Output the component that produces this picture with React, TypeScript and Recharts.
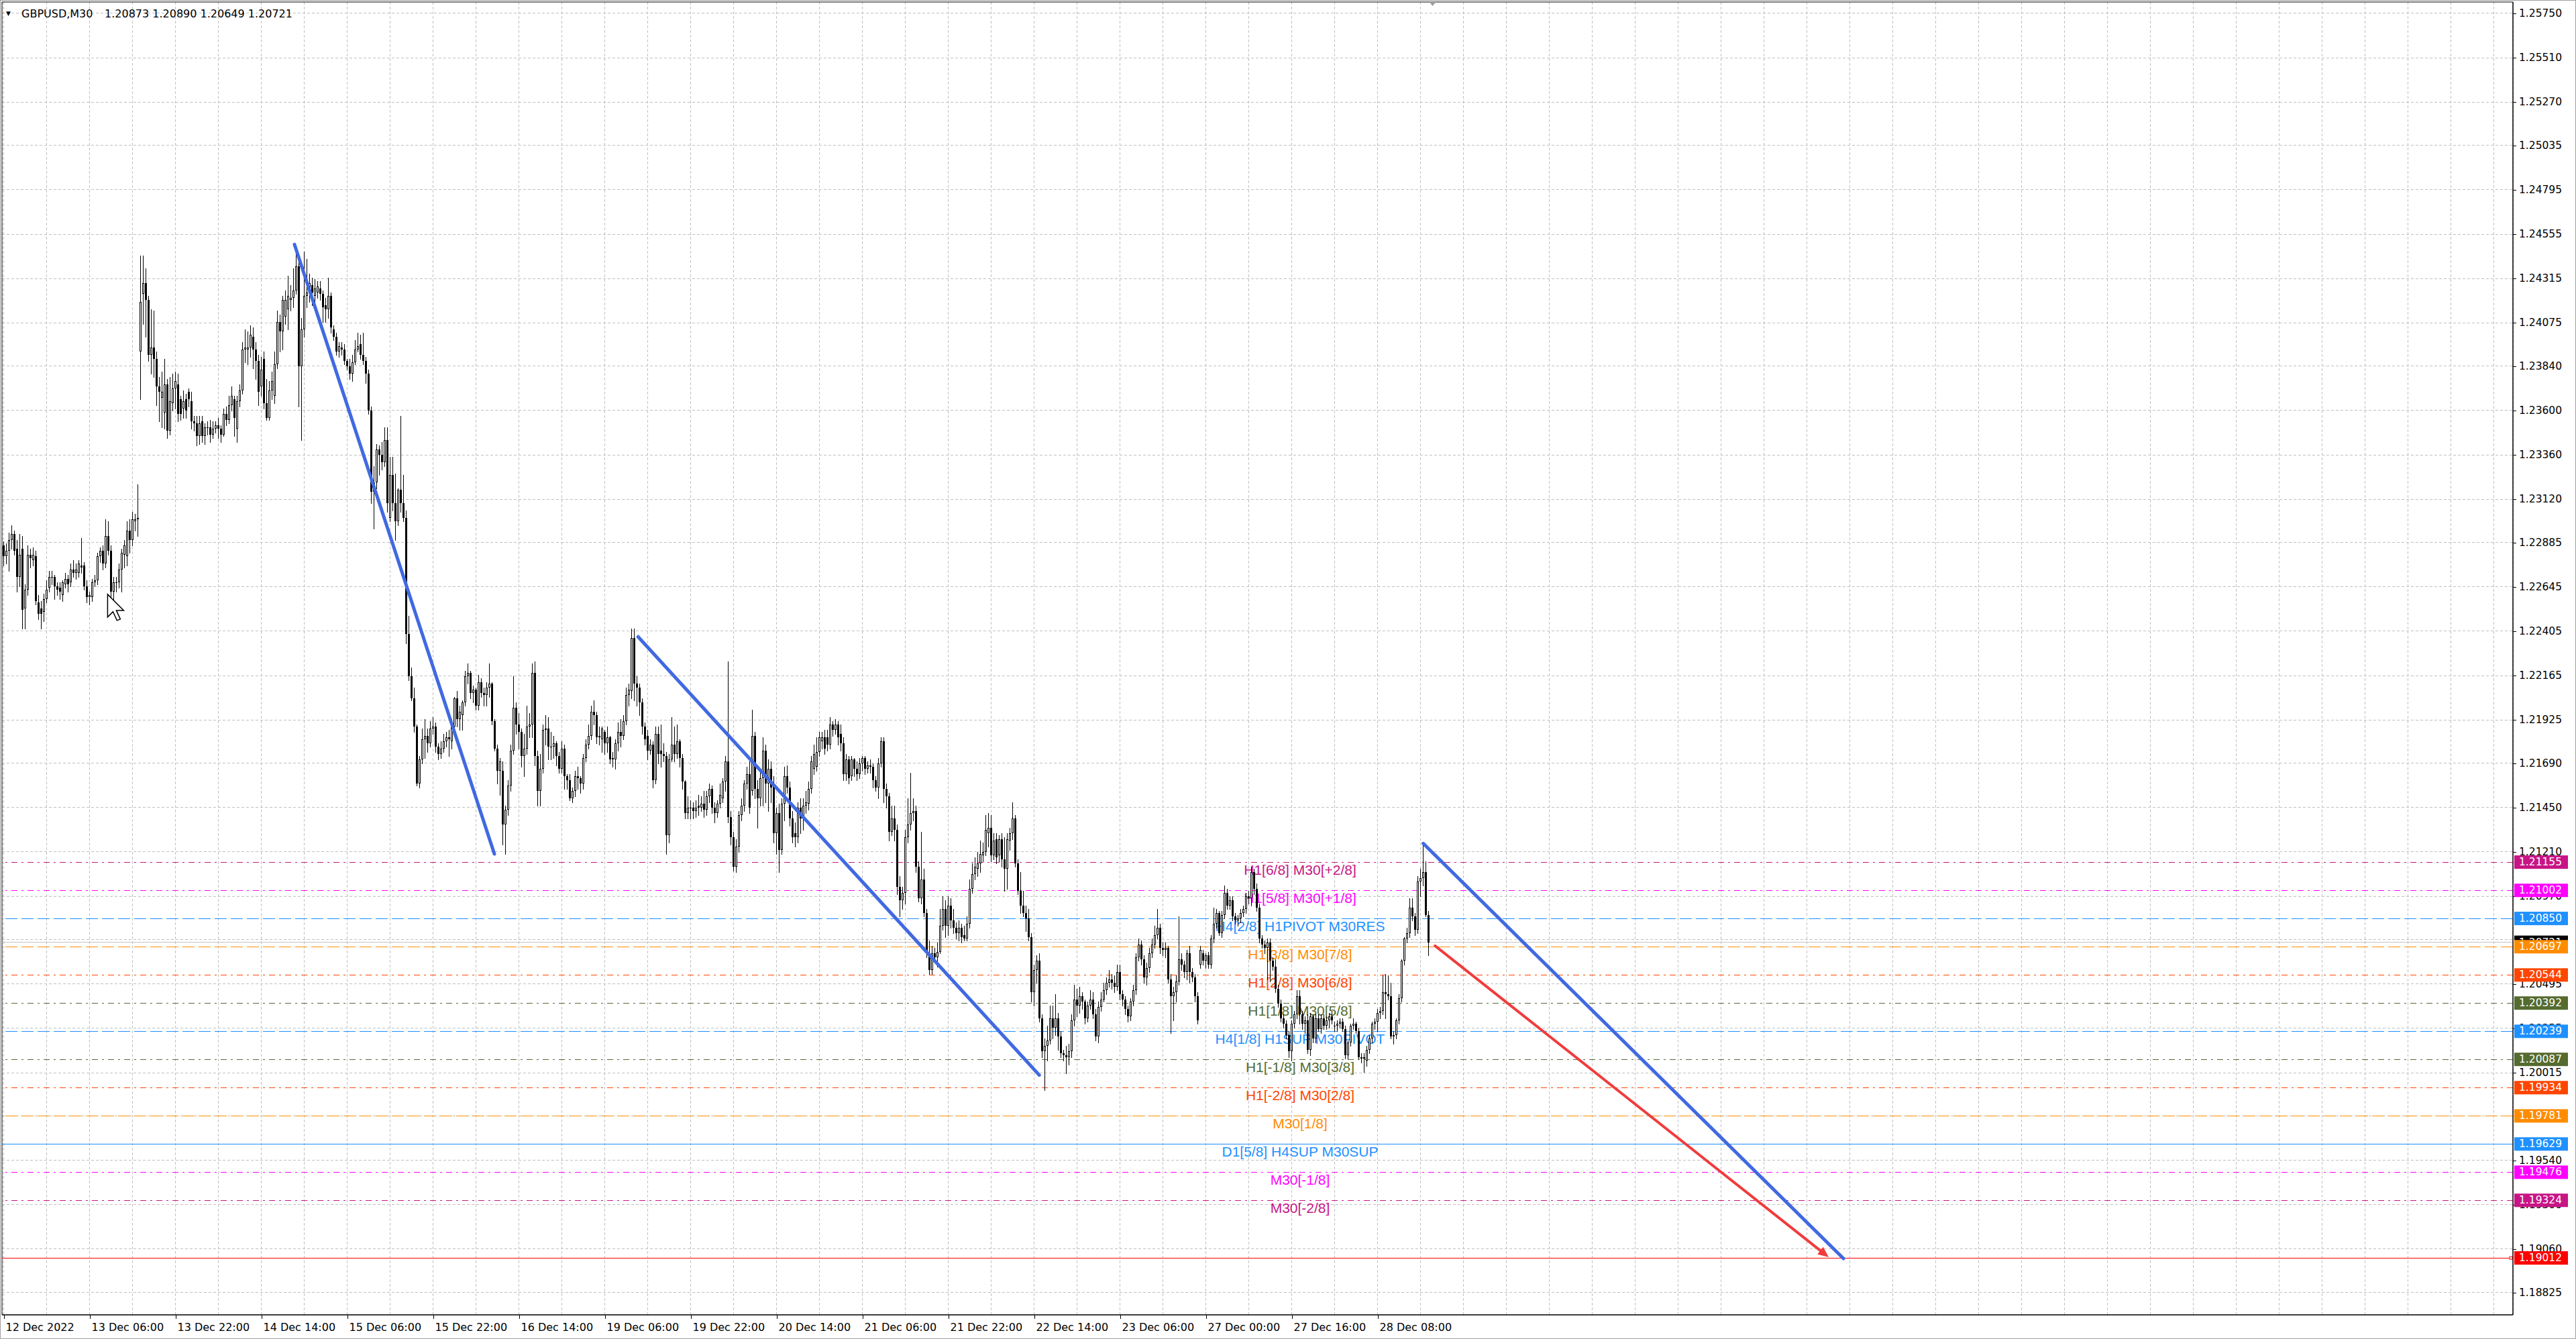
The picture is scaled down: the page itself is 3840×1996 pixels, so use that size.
import { Bar, CartesianGrid, ComposedChart, ReferenceArea, ReferenceDot, ReferenceLine, XAxis, YAxis } from 'recharts';

type Ohlc = [number, number, number, number];

// GBPUSD M30, one row per bar: [open, high, low, close] in pips above 1.2000
const BASE = 1.2;
const PIP = 0.0001;

const dec12: Ohlc[] = [
  [276,290,268,287],[287,289,276,281],[281,288,277,284],[284,294,273,290],[290,298,285,293],[293,295,282,284],[285,290,262,270],[270,293,265,282],
  [285,292,242,252],[253,266,242,263],[263,287,260,282],[282,285,275,280],[279,286,276,282],[281,284,255,257],[256,260,247,250],[253,257,242,250],
  [251,261,246,258],[258,268,256,263],[264,273,262,270],[270,273,266,270],[270,271,258,265],
];
const dec13: Ohlc[] = [
  [265,267,260,263],[264,267,258,262],[260,268,257,267],[266,272,264,269],[269,271,262,266],[267,277,265,274],[274,279,270,272],[272,277,269,274],
  [272,279,270,277],[276,291,272,275],[276,278,263,265],[265,268,256,259],[259,262,255,260],[259,269,257,267],[267,271,265,268],[268,283,266,281],
  [281,286,278,284],[284,287,274,277],[277,301,275,292],[292,300,282,284],[284,287,258,262],[262,270,256,267],[267,270,262,267],[267,277,264,274],
  [274,285,262,283],[282,290,275,287],[281,300,276,295],[295,301,283,290],[290,305,287,301],[300,304,295,301],[301,320,292,302],[392,444,366,419],
  [423,444,407,429],[429,437,400,420],[420,422,387,390],[390,415,380,394],[394,414,378,388],[388,392,363,373],[373,378,354,370],[367,381,351,370],
  [359,388,350,374],[374,377,345,349],[349,378,347,365],[364,380,360,372],[372,381,361,376],[374,380,354,358],[366,368,355,358],[361,371,356,365],
];
const dec14: Ohlc[] = [
  [366,369,356,360],[370,372,362,366],[365,370,350,354],[354,357,349,353],[353,357,341,346],[346,357,342,353],[354,357,343,346],[346,353,342,351],
  [351,354,347,351],[351,355,343,347],[347,354,345,350],[350,354,348,352],[352,356,345,350],[350,352,343,347],[347,361,346,358],[358,362,352,355],
  [355,368,353,363],[363,373,360,368],[366,368,346,356],[350,368,343,365],[365,374,362,371],[371,397,369,393],[393,404,386,394],[393,403,385,394],
  [394,406,389,401],[400,405,383,393],[393,397,377,387],[387,390,363,370],[373,389,368,382],[388,392,361,364],[364,377,355,356],[356,376,355,371],
  [371,381,366,376],[368,392,364,385],[385,414,383,408],[408,412,392,403],[403,422,393,420],[411,425,407,420],[415,433,404,422],[420,428,414,421],
  [421,437,416,425],[425,449,423,438],[438,441,362,384],[384,410,344,404],[404,446,400,422],[422,442,416,424],[424,434,419,429],[428,432,417,424],
];
const dec15: Ohlc[] = [
  [422,431,419,426],[424,430,421,427],[426,430,420,423],[423,425,408,416],[417,421,408,415],[415,432,410,422],[422,424,402,405],[404,406,398,400],
  [400,402,390,392],[392,397,389,395],[394,397,390,393],[393,396,385,387],[387,388,382,384],[384,388,377,380],[380,390,376,386],[386,398,385,393],
  [393,402,392,395],[396,401,388,390],[390,402,385,387],[387,389,375,380],[380,382,358,360],[360,362,310,316],[316,330,296,321],[321,342,318,339],
  [339,341,325,336],[336,343,328,332],[332,351,330,344],[344,351,305,310],[302,335,300,325],[325,335,306,310],[310,326,290,300],[300,318,298,317],
  [317,357,305,310],[310,325,300,302],[302,306,234,239],[239,249,214,216],[216,221,203,204],[204,210,186,189],[189,190,157,158],[158,173,156,171],
  [171,188,169,182],[182,193,172,184],[184,188,175,180],[180,192,178,188],[188,194,185,189],[189,191,175,178],[178,180,171,174],[174,181,172,177],
];
const dec16: Ohlc[] = [
  [177,185,175,181],[181,186,178,183],[183,187,173,182],[181,193,177,189],[189,205,187,204],[204,208,189,193],[193,200,187,197],[195,203,187,202],
  [202,219,200,216],[216,223,212,218],[218,219,204,207],[207,211,202,209],[209,210,198,200],[200,217,198,213],[213,215,205,207],[207,210,200,206],
  [206,213,200,210],[210,223,205,212],[212,213,190,192],[192,193,176,177],[177,179,158,165],[165,172,152,170],[165,170,125,136],[136,146,120,144],
  [144,160,141,157],[157,179,154,176],[176,216,174,199],[199,202,185,190],[190,196,177,186],[186,188,167,173],[173,185,162,177],[177,200,174,189],
  [189,196,183,190],[190,223,183,218],[218,224,168,173],[173,176,146,154],[154,174,146,166],[166,190,164,187],[187,195,179,188],[188,194,171,178],
  [178,186,171,178],[178,184,172,180],[180,181,168,173],[173,175,164,166],[166,181,164,177],[177,179,155,162],[162,163,155,160],[160,163,149,150],
];
const dec19: Ohlc[] = [
  [150,156,148,154],[154,165,151,162],[162,167,155,161],[161,162,153,158],[158,174,155,172],[172,182,170,179],[179,190,177,184],[184,200,182,197],
  [197,203,190,195],[195,197,180,183],[183,189,179,184],[182,189,175,188],[186,187,174,180],[180,189,175,183],[183,184,169,171],[171,175,167,172],
  [171,182,166,180],[180,191,176,186],[186,193,178,184],[184,195,182,192],[192,210,190,206],[206,212,200,209],[208,242,204,237],[237,242,203,212],
  [212,216,200,210],[210,212,195,202],[202,204,185,189],[189,191,179,182],[184,187,171,176],[176,182,174,179],[179,181,156,160],[160,189,158,185],
  [185,189,169,174],[176,190,167,174],[174,180,170,173],[173,175,120,130],[130,174,126,171],[171,194,170,179],[179,189,170,174],[174,190,172,181],
  [181,182,167,172],[172,174,155,159],[159,160,139,142],[142,151,139,145],[145,149,139,145],[145,148,139,143],[143,149,140,145],[146,152,141,145],
];
const dec20: Ohlc[] = [
  [145,151,143,147],[147,154,140,144],[144,154,141,151],[151,158,148,155],[155,157,142,145],[145,148,137,142],[142,149,140,147],[147,158,145,152],
  [150,161,148,159],[159,173,154,170],[170,224,137,140],[140,143,125,129],[129,132,111,113],[113,128,110,124],[124,143,121,141],[141,150,138,146],
  [146,160,143,158],[158,167,155,163],[163,170,142,145],[154,198,152,184],[184,186,150,155],[155,160,134,150],[150,165,146,161],[161,183,146,176],
  [176,179,148,158],[158,171,143,166],[166,170,148,156],[158,162,126,131],[131,145,120,142],[142,147,110,122],[122,150,120,147],[147,167,138,162],
  [162,168,153,156],[156,159,135,139],[139,143,126,129],[131,137,124,129],[129,148,126,145],[145,150,131,139],[139,150,133,146],[146,154,142,148],
  [147,159,144,155],[155,173,153,170],[166,179,163,174],[167,183,165,175],[175,186,173,183],[181,186,177,183],[183,187,174,177],[183,187,176,179],
];
const dec21: Ohlc[] = [
  [179,194,177,190],[190,192,184,187],[187,193,185,190],[190,192,179,183],[185,190,176,180],[180,183,160,163],[163,174,160,171],[171,173,158,161],
  [162,173,160,171],[171,172,162,166],[166,170,160,163],[163,172,161,169],[169,173,165,172],[172,173,163,166],[166,170,164,168],[168,171,164,167],
  [167,169,156,160],[160,162,154,156],[156,172,150,169],[169,183,167,181],[181,183,148,155],[155,158,145,151],[151,153,127,132],[132,146,130,139],
  [139,146,127,133],[133,136,98,102],[102,108,86,95],[95,102,90,99],[99,133,93,129],[129,150,126,136],[136,164,133,142],[142,150,138,143],
  [143,146,110,113],[113,116,94,96],[96,132,93,106],[106,112,86,88],[88,90,64,66],[66,73,55,57],[57,70,55,66],[66,69,61,64],
  [64,72,59,67],[67,90,66,81],[81,97,79,90],[90,95,75,81],[81,97,76,92],[92,96,80,84],[84,90,77,80],[80,83,74,77],
];
const dec22: Ohlc[] = [
  [77,84,73,80],[80,82,72,75],[76,81,73,74],[74,86,73,82],[82,106,80,101],[101,115,99,109],[109,118,106,113],[112,121,108,115],
  [115,127,110,120],[119,126,116,121],[121,141,119,133],[131,142,124,134],[134,141,116,119],[119,131,117,127],[128,131,115,118],[119,130,116,128],
  [128,131,113,117],[117,129,100,112],[112,131,101,128],[127,134,122,131],[131,148,128,139],[139,141,113,115],[115,117,98,100],[100,110,88,92],
  [92,100,86,88],[88,92,78,85],[85,90,73,75],[75,77,40,45],[45,60,38,57],[57,65,50,62],[62,66,29,31],[31,33,10,13],
  [13,20,-8,16],[16,27,8,19],[19,38,17,31],[31,38,20,26],[26,44,22,31],[31,34,14,21],[21,24,10,12],[12,14,8,11],
  [11,16,1,10],[10,17,6,13],[13,33,10,30],[30,49,27,41],[41,47,32,38],[38,48,34,43],[43,45,36,40],[40,41,28,31],
];
const dec23: Ohlc[] = [
  [31,40,29,38],[38,46,36,41],[41,45,31,33],[33,36,19,21],[21,40,18,37],[37,45,35,41],[41,50,40,46],[46,53,44,50],
  [50,57,48,52],[52,55,47,50],[50,54,45,48],[48,60,46,56],[56,60,41,44],[44,46,38,41],[41,43,33,36],[36,38,29,32],
  [32,42,30,40],[40,49,38,46],[46,66,44,64],[64,74,62,71],[71,73,60,63],[63,65,50,53],[53,61,49,58],[58,69,56,66],
  [66,74,64,71],[71,81,69,76],[76,90,74,80],[80,82,66,69],[69,72,65,68],[68,72,64,69],[69,70,50,52],[52,55,23,43],
  [43,48,30,45],[45,54,40,51],[51,86,49,63],[63,66,57,60],[60,62,53,56],[56,68,52,66],[66,70,50,56],[56,58,51,53],
  [53,55,40,43],[43,45,28,30],
];
const dec27: Ohlc[] = [
  [60,70,58,68],[66,68,60,62],[62,66,58,65],[65,67,58,60],[60,76,58,74],[74,91,72,82],[82,90,80,88],[88,89,76,77],
  [77,89,75,87],[87,103,85,99],[99,101,90,92],[92,97,90,95],[95,97,84,86],[86,88,82,84],[84,87,81,85],[85,90,83,88],
  [88,92,86,90],[90,99,88,97],[97,100,93,96],[96,113,92,110],[110,112,98,101],[101,104,89,91],[91,93,72,74],[74,76,69,71],
  [71,73,66,69],[69,74,52,72],[72,74,51,62],[62,64,57,59],[59,63,45,47],[47,49,37,39],[39,41,29,31],[31,33,26,28],
  [28,30,20,22],[22,24,10,13],[13,30,8,28],[28,35,26,33],[33,46,31,43],[43,46,28,33],[33,35,25,28],[28,32,23,30],
  [30,33,12,14],[14,34,11,32],[32,33,18,20],[20,33,18,31],[31,33,24,25],[25,33,23,31],[31,33,25,27],[27,32,25,30],
  [30,34,26,32],[32,35,28,30],
];
const dec28: Ohlc[] = [
  [27,29,24,27],[27,30,24,28],[28,31,26,29],[29,31,24,25],[25,27,9,11],[11,19,9,18],[18,28,16,27],[27,31,25,28],
  [28,29,23,24],[24,26,9,10],[10,12,7,9],[9,12,2,10],[8,16,5,14],[14,22,12,20],[20,29,18,28],[28,31,25,29],
  [29,36,24,34],[34,37,31,35],[35,54,33,45],[45,55,31,44],[44,54,41,43],[43,50,20,21],[21,24,17,22],[22,31,20,30],
  [30,44,28,42],[42,63,40,62],[62,75,60,74],[74,80,72,77],[77,96,75,91],[91,96,84,86],[86,88,76,79],[79,108,77,105],
  [105,112,97,107],[107,126,103,110],[110,116,86,87],[87,89,65,72],
];

const sessions = [dec12, dec13, dec14, dec15, dec16, dec19, dec20, dec21, dec22, dec23, dec27, dec28];

const timeLabels = [
  '12 Dec 2022', '13 Dec 06:00', '13 Dec 22:00', '14 Dec 14:00', '15 Dec 06:00', '15 Dec 22:00',
  '16 Dec 14:00', '19 Dec 06:00', '19 Dec 22:00', '20 Dec 14:00', '21 Dec 06:00', '21 Dec 22:00',
  '22 Dec 14:00', '23 Dec 06:00', '27 Dec 00:00', '27 Dec 16:00', '28 Dec 08:00',
];

const priceTicks = [
  1.2575, 1.2551, 1.2527, 1.25035, 1.24795, 1.24555, 1.24315, 1.24075, 1.2384, 1.236,
  1.2336, 1.2312, 1.22885, 1.22645, 1.22405, 1.22165, 1.21925, 1.2169, 1.2145, 1.2121,
  1.2097, 1.20735, 1.20495, 1.20255, 1.20015, 1.1978, 1.1954, 1.193, 1.1906, 1.18825,
];

const levelPrices = [
  1.21155, 1.21002, 1.2085, 1.20697, 1.20544, 1.20392, 1.20239,
  1.20087, 1.19934, 1.19781, 1.19629, 1.19476, 1.19324, 1.19012,
];
const levelNames = [
  'H1[6/8] M30[+2/8]', 'H1[5/8] M30[+1/8]', 'H4[2/8] H1PIVOT M30RES', 'H1[3/8] M30[7/8]',
  'H1[2/8] M30[6/8]', 'H1[1/8] M30[5/8]', 'H4[1/8] H1SUP M30PIVOT', 'H1[-1/8] M30[3/8]',
  'H1[-2/8] M30[2/8]', 'M30[1/8]', 'D1[5/8] H4SUP M30SUP', 'M30[-1/8]', 'M30[-2/8]', '',
];

const bidPrice = 1.20721;
const lastQuote = ['1.20873', '1.20890', '1.20649', '1.20721'];

// drawn objects, anchored at [bar index, price]
const trendLines: [number, number][][] = [
  [[109.35, 1.24499], [183.85, 1.21199]],
  [[237.4, 1.22375], [386.9, 1.20002]],
  [[530, 1.21256], [686.6, 1.19009]],
];
const signalArrow: [number, number][] = [[534.4, 1.20702], [681.1, 1.19016]];
const shiftMarkBar = 533.5;
const mousePointer: [number, number] = [39.7, 1.22605];

// ---- styling ----
const DASH = '18 6';
const DASH_DOT = '9 6 3 6';
const levelStyles: { color: string; dash?: string }[] = [
  { color: '#c71585', dash: DASH_DOT },
  { color: '#ff00ff', dash: DASH_DOT },
  { color: '#1e90ff', dash: DASH },
  { color: '#ff8c00', dash: DASH },
  { color: '#ff4500', dash: DASH_DOT },
  { color: '#556b2f', dash: DASH_DOT },
  { color: '#1e90ff', dash: DASH },
  { color: '#556b2f', dash: DASH_DOT },
  { color: '#ff4500', dash: DASH_DOT },
  { color: '#ff8c00', dash: DASH },
  { color: '#1e90ff' },
  { color: '#ff00ff', dash: DASH_DOT },
  { color: '#c71585', dash: DASH_DOT },
  { color: '#ff0000' },
];

const X_MIN = 0.35;
const X_MAX = 936.1;
const Y_MIN = 1.187039;
const Y_MAX = 1.258117;
const LABEL_FIRST = 1;
const LABEL_STEP = 32;
const GRID_STEP = 16;
const AXIS_FONT = '"DejaVu Sans", Verdana, sans-serif';

const candles = sessions.flat().map(([o, h, l, c], i) => ({
  i,
  o: BASE + o * PIP,
  h: BASE + h * PIP,
  l: BASE + l * PIP,
  c: BASE + c * PIP,
}));

const xTicks = Array.from({ length: 59 }, (_, k) => LABEL_FIRST + k * GRID_STEP);
const tagPrices = [bidPrice, ...levelPrices];
// grid labels that sit fully under a price tag are not drawn (as in the terminal)
const gridLabels = priceTicks.filter((p) => tagPrices.every((t) => Math.abs(t - p) > 0.00015));
// tags come last so they paint over the grid labels
const yTicks = [...gridLabels, ...tagPrices];

function Candle(props: any) {
  const { x, y, width, height, payload } = props;
  if (!payload || !Number.isFinite(y)) return null;
  const { o, h, l, c } = payload;
  const top = Math.min(y, y + height);
  const span = Math.abs(height);
  const k = h > l ? span / (h - l) : 0;
  const at = (v: number) => top + (h - v) * k;
  const cx = Math.floor(x + width / 2) + 0.5;
  const bodyTop = Math.round(Math.min(at(o), at(c)));
  const bodyBot = Math.round(Math.max(at(o), at(c)));
  let body;
  if (bodyBot - bodyTop < 2) {
    body = <line x1={cx - 1.5} x2={cx + 1.5} y1={bodyTop + 0.5} y2={bodyTop + 0.5} stroke="#000" />;
  } else if (c >= o) {
    body = <rect x={cx - 1} y={bodyTop + 0.5} width={2} height={bodyBot - bodyTop - 1} fill="#fff" stroke="#000" />;
  } else {
    body = <rect x={cx - 1.5} y={bodyTop} width={3} height={bodyBot - bodyTop} fill="#000" />;
  }
  return (
    <g shapeRendering="crispEdges">
      <line x1={cx} x2={cx} y1={Math.round(top)} y2={Math.round(top + span) + 1} stroke="#000" />
      {body}
    </g>
  );
}

function TimeTick({ x, y, payload }: any) {
  const t = payload.value;
  if ((t - LABEL_FIRST) % LABEL_STEP !== 0) return null;
  const text = timeLabels[(t - LABEL_FIRST) / LABEL_STEP];
  if (!text) return null;
  const px = Math.round(x) + 0.5;
  return (
    <g>
      <line x1={px} x2={px} y1={y} y2={y + 6} stroke="#000" shapeRendering="crispEdges" />
      <text x={px + 2} y={y + 18} dominantBaseline="central" fontFamily={AXIS_FONT} fontSize={16} fill="#000">
        {text}
      </text>
    </g>
  );
}

function PriceTick({ x, y, payload }: any) {
  const v = payload.value;
  const k = levelPrices.indexOf(v);
  if (k >= 0 || v === bidPrice) {
    const color = k >= 0 ? levelStyles[k].color : '#000';
    return (
      <g>
        <rect x={x + 2} y={y - 10} width={80} height={20} fill={color} />
        <text x={x + 9} y={y} dominantBaseline="central" fontFamily={AXIS_FONT} fontSize={15.5} fill="#fff">
          {v.toFixed(5)}
        </text>
      </g>
    );
  }
  const py = Math.round(y) + 0.5;
  return (
    <g>
      <line x1={x} x2={x + 5} y1={py} y2={py} stroke="#000" shapeRendering="crispEdges" />
      <text x={x + 9} y={y} dominantBaseline="central" fontFamily={AXIS_FONT} fontSize={15.5} fill="#000">
        {v.toFixed(5)}
      </text>
    </g>
  );
}

function LevelName({ viewBox, color, name, marker }: any) {
  if (!viewBox) return null;
  const { x, y, width } = viewBox;
  return (
    <g>
      {name ? (
        <text x={x + width / 2 + 63.5} y={y + 11} textAnchor="middle" dominantBaseline="central"
          fontFamily='"Liberation Sans", Arial, sans-serif' fontSize={21} fill={color}>
          {name}
        </text>
      ) : null}
      {marker ? <rect x={x + width - 5} y={y - 2} width={4} height={4} fill="#fff" stroke={color} /> : null}
    </g>
  );
}

function ArrowLine(props: any) {
  const { x1, y1, x2, y2, stroke } = props;
  const a = Math.atan2(y2 - y1, x2 - x1);
  const len = 16;
  const w = 7;
  const bx = x2 - len * Math.cos(a);
  const by = y2 - len * Math.sin(a);
  const pts = [
    `${x2},${y2}`,
    `${bx + w * Math.sin(a)},${by - w * Math.cos(a)}`,
    `${bx - w * Math.sin(a)},${by + w * Math.cos(a)}`,
  ].join(' ');
  return (
    <g>
      <line x1={x1} y1={y1} x2={bx} y2={by} stroke={stroke} strokeWidth={4} strokeLinecap="round" />
      <polygon points={pts} fill={stroke} />
    </g>
  );
}

function ShiftMark({ cx, cy }: any) {
  if (!Number.isFinite(cx)) return null;
  return <polygon points={`${cx - 5},${cy} ${cx + 5},${cy} ${cx},${cy + 6}`} fill="#a0a0a0" />;
}

// standard arrow pointer, drawn at 2x
function Pointer({ cx, cy }: any) {
  if (!Number.isFinite(cx)) return null;
  const pts = [[0, 0], [0, 17], [4, 13], [7, 19.5], [9.5, 18.5], [6.5, 12], [12, 12]]
    .map(([px, py]) => `${cx + px * 2},${cy + py * 2}`)
    .join(' ');
  return <polygon points={pts} fill="#fff" stroke="#000" strokeWidth={1.5} strokeLinejoin="miter" />;
}

export default function App() {
  return (
    <div style={{ position: 'absolute', left: 0, top: 0, width: 3840, height: 1996, background: '#fff', overflow: 'hidden' }}>
      <ComposedChart width={3840} height={1996} data={candles} margin={{ top: 3, right: 0, bottom: 0, left: 3 }}>
        <CartesianGrid stroke="#c0c0c0" strokeDasharray="4 3" shapeRendering="crispEdges" horizontalValues={priceTicks} />
        <XAxis
          dataKey="i"
          type="number"
          domain={[X_MIN, X_MAX]}
          allowDataOverflow
          ticks={xTicks}
          interval={0}
          height={36}
          tickSize={0}
          tickMargin={0}
          tickLine={false}
          axisLine={{ stroke: '#000' }}
          tick={<TimeTick />}
        />
        <YAxis
          orientation="right"
          type="number"
          domain={[Y_MIN, Y_MAX]}
          allowDataOverflow
          ticks={yTicks}
          interval={0}
          width={94}
          tickSize={0}
          tickMargin={0}
          tickLine={false}
          axisLine={{ stroke: '#000' }}
          tick={<PriceTick />}
        />
        <ReferenceArea x1={X_MIN} x2={X_MAX} y1={Y_MIN} y2={Y_MAX} fill="none" stroke="#000" ifOverflow="visible" />
        <ReferenceLine y={bidPrice} stroke="#c0c0c0" zIndex={250} />
        {levelPrices.map((price, k) => (
          <ReferenceLine
            key={price}
            y={price}
            stroke={levelStyles[k].color}
            strokeDasharray={levelStyles[k].dash}
            shapeRendering="crispEdges"
            zIndex={250}
            label={(p: any) => (
              <LevelName viewBox={p.viewBox} color={levelStyles[k].color} name={levelNames[k]}
                marker={k === levelPrices.length - 1} />
            )}
          />
        ))}
        <Bar dataKey={(d: any) => [d.l, d.h]} barSize={3} shape={(p: any) => <Candle {...p} />} isAnimationActive={false} />
        {trendLines.map(([a, b], k) => (
          <ReferenceLine
            key={k}
            segment={[{ x: a[0], y: a[1] }, { x: b[0], y: b[1] }]}
            stroke="#4169e1"
            strokeWidth={5}
            strokeLinecap="round"
            ifOverflow="visible"
            zIndex={700}
          />
        ))}
        <ReferenceLine
          segment={[{ x: signalArrow[0][0], y: signalArrow[0][1] }, { x: signalArrow[1][0], y: signalArrow[1][1] }]}
          stroke="#f03c3c"
          ifOverflow="visible"
          zIndex={700}
          shape={(p: any) => <ArrowLine {...p} />}
        />
        <ReferenceDot x={shiftMarkBar} y={Y_MAX} ifOverflow="visible" shape={(p: any) => <ShiftMark {...p} />} />
        <ReferenceDot x={mousePointer[0]} y={mousePointer[1]} ifOverflow="visible" zIndex={800}
          shape={(p: any) => <Pointer {...p} />} />
      </ComposedChart>
      <div style={{ position: 'absolute', left: 0, top: 0, fontFamily: AXIS_FONT, fontSize: 16, color: '#000', whiteSpace: 'pre', lineHeight: '19px' }}>
        <span style={{ position: 'absolute', left: 9, top: 11, fontSize: 9 }}>▼</span>
        <span style={{ position: 'absolute', left: 32, top: 11 }}>GBPUSD,M30</span>
        <span style={{ position: 'absolute', left: 156, top: 11 }}>{lastQuote.join(' ')}</span>
      </div>
      <div style={{ position: 'absolute', inset: 0, border: '1px solid #a0a0a0', pointerEvents: 'none' }} />
    </div>
  );
}
